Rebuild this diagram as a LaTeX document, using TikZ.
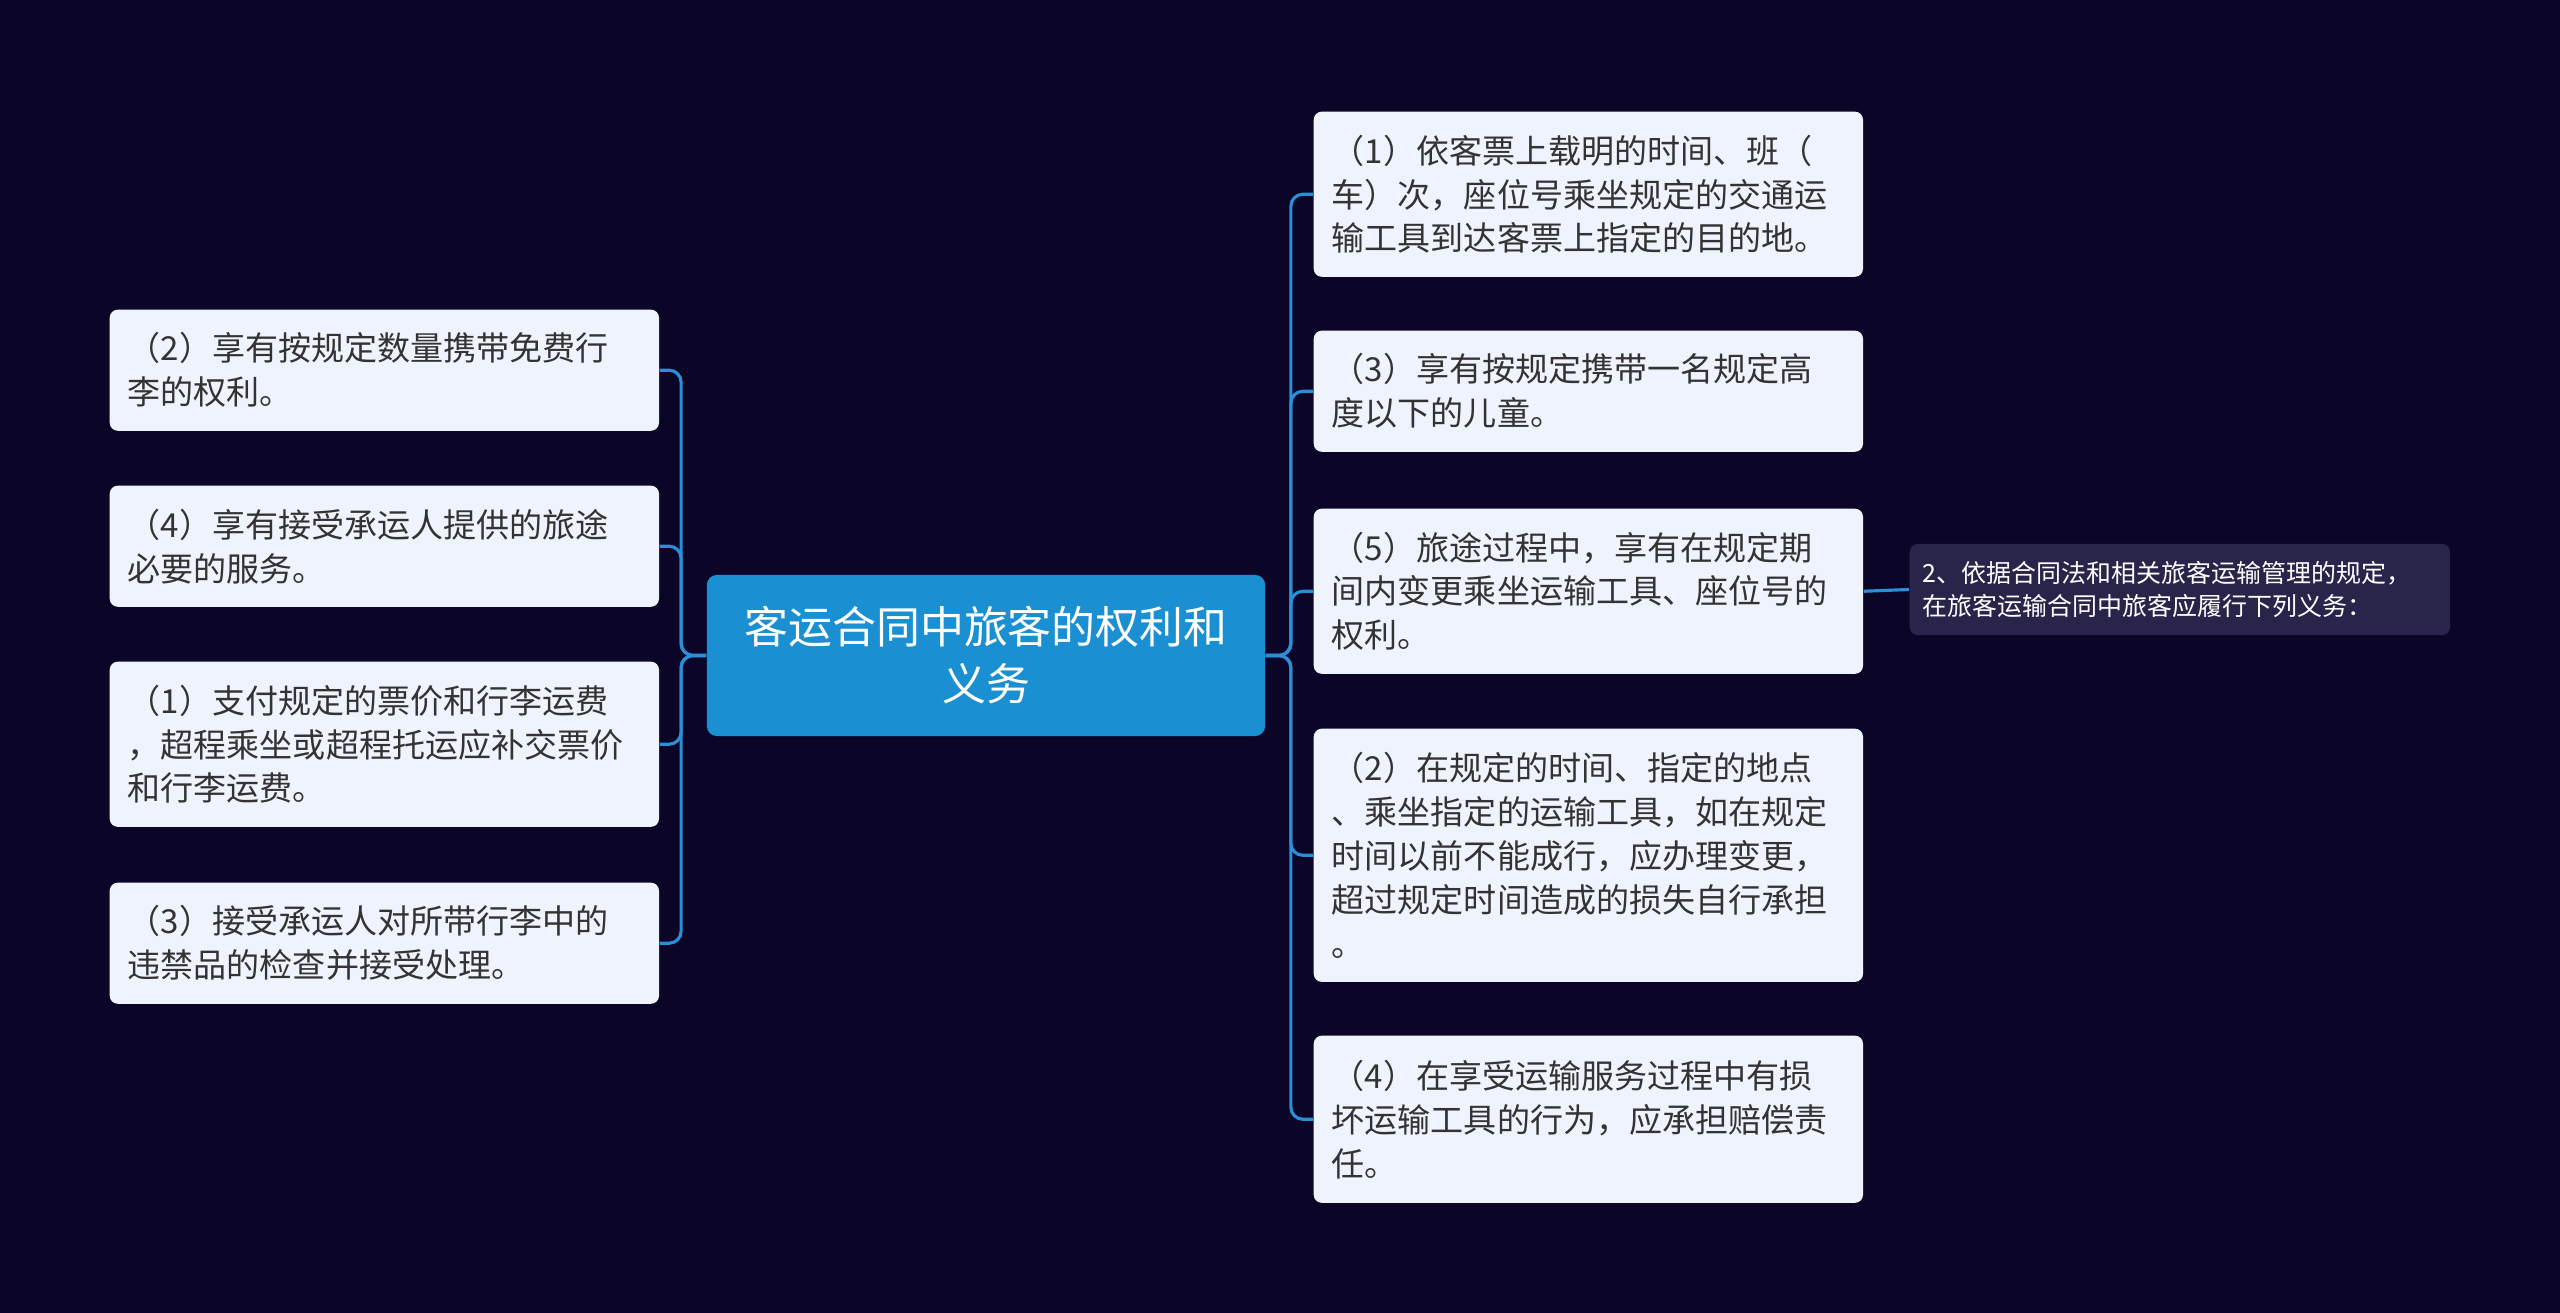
\documentclass[tikz,border=0pt]{standalone}
\usepackage{fontspec}
\setmainfont{Noto Sans CJK SC}
\usetikzlibrary{positioning}
\definecolor{bgnavy}{HTML}{0B0628}
\definecolor{leaffill}{HTML}{EEF3FD}
\definecolor{leaftext}{HTML}{333333}
\definecolor{rootfill}{HTML}{1A8FD2}
\definecolor{notefill}{HTML}{29254A}
\definecolor{linkblue}{HTML}{2A8FD6}
\tikzset{
  leaf/.style  = {fill=leaffill, text=leaftext, rounded corners=0.08cm, anchor=north west,
                  text width=5.13cm, inner xsep=0.18cm, inner ysep=0pt, align=left,
                  font=\fontsize{9.4}{12.5}\selectfont},
  root/.style  = {fill=rootfill, text=white, rounded corners=0.1cm, minimum width=5.58cm,
                  minimum height=1.61cm, align=center, font=\fontsize{12.5}{16.2}\selectfont},
  note/.style  = {fill=notefill, text=white, rounded corners=0.08cm, anchor=west,
                  text width=5.14cm, inner xsep=0.13cm, minimum height=0.91cm, align=left,
                  font=\fontsize{7.1}{9.6}\selectfont},
  link/.style  = {draw=linkblue, line width=0.9pt, rounded corners=0.12cm},
}
\begin{document}
\begin{tikzpicture}[x=0.01cm,y=-0.01cm]
  \fill[bgnavy] (0,0) rectangle (2560,1313);
  % centre
  \node[root] (topic) at (986,655.5) {客运合同中旅客的权利和\\义务};
  % left branch
  \node[leaf, minimum height=1.21cm] (l1) at (109,309) {（2）享有按规定数量携带免费行\\李的权利。};
  \node[leaf, minimum height=1.21cm] (l2) at (109,485) {（4）享有接受承运人提供的旅途\\必要的服务。};
  \node[leaf, minimum height=1.65cm] (l3) at (109,661) {（1）支付规定的票价和行李运费\\，超程乘坐或超程托运应补交票价\\和行李运费。};
  \node[leaf, minimum height=1.21cm] (l4) at (109,882) {（3）接受承运人对所带行李中的\\违禁品的检查并接受处理。};
  % right branch
  \node[leaf, minimum height=1.65cm] (r1) at (1313,111) {（1）依客票上载明的时间、班（\\车）次，座位号乘坐规定的交通运\\输工具到达客票上指定的目的地。};
  \node[leaf, minimum height=1.21cm] (r2) at (1313,330) {（3）享有按规定携带一名规定高\\度以下的儿童。};
  \node[leaf, minimum height=1.65cm] (r3) at (1313,508) {（5）旅途过程中，享有在规定期\\间内变更乘坐运输工具、座位号的\\权利。};
  \node[leaf, minimum height=2.53cm] (r4) at (1313,728) {（2）在规定的时间、指定的地点\\、乘坐指定的运输工具，如在规定\\时间以前不能成行，应办理变更，\\超过规定时间造成的损失自行承担\\。};
  \node[leaf, minimum height=1.67cm] (r5) at (1313,1035) {（4）在享受运输服务过程中有损\\坏运输工具的行为，应承担赔偿责\\任。};
  \node[note] (note) at (1909,589.5) {2、依据合同法和相关旅客运输管理的规定，\\在旅客运输合同中旅客应履行下列义务：};
  % links
  \foreach \n in {l1,l2,l3,l4}
    \draw[link] (topic.west) -- ++(-25,0) |- (\n.east);
  \foreach \n in {r1,r2,r3,r4,r5}
    \draw[link] (topic.east) -- ++(25,0) |- (\n.west);
  \draw[link] (r3.east) -- (note.west);
\end{tikzpicture}
\end{document}
